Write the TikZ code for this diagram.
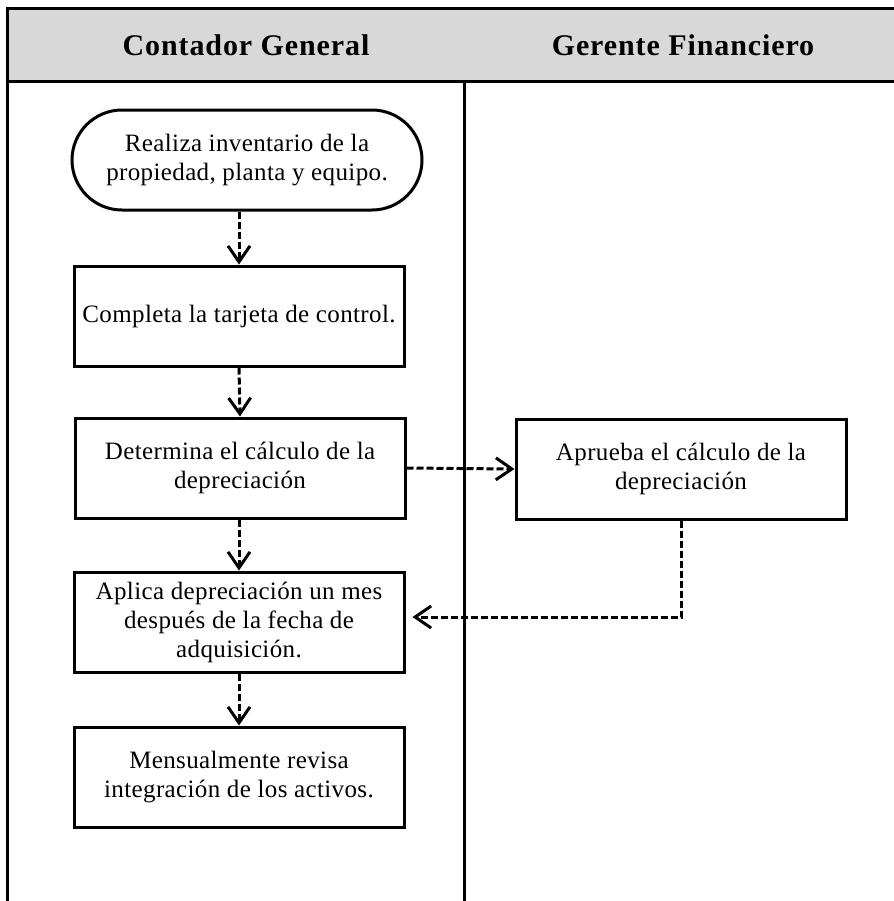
\documentclass[tikz,border=0pt]{standalone}
\usepackage{fontspec}
\setmainfont{Liberation Serif}
\usetikzlibrary{arrows.meta}
\definecolor{lanegray}{HTML}{D8D8D8}
\tikzset{
  stepbox/.style={draw, line width=1.5pt, minimum width=165pt, minimum height=50pt,
    align=center, inner sep=0pt,
    font=\fontsize{12.5}{14.5}\selectfont\addfontfeature{LetterSpace=1.5}},
  startbox/.style={stepbox, rounded corners=25pt, minimum width=175pt},
  flow/.style={line width=1.5pt, dash pattern=on 3.5pt off 1.5pt,
    -{Straight Barb[length=8pt,width=11pt]}},
  lane/.style={line width=1.5pt},
  lanehead/.style={font=\fontsize{15}{17}\selectfont\bfseries\addfontfeature{LetterSpace=3}},
}
\begin{document}
\begin{tikzpicture}[x=0.5pt,y=-0.5pt]
\useasboundingbox (0,0) rectangle (894,901);
\clip (0,0) rectangle (894,901);
% swimlane frame
\draw[lane, fill=lanegray] (7,8) rectangle (905,81);
\draw[lane] (7,81) -- (7,910);
\draw[lane] (464,81) -- (464,910);
\node[lanehead] (h1) at (246,45) {Contador General};
\node[lanehead] (h2) at (683,45) {Gerente Financiero};
% process steps
\node[startbox] (t1) at (247,160) {Realiza inventario de la\\propiedad, planta y equipo.};
\node[stepbox] (b2) at (239,316) {Completa la tarjeta de control.};
\node[stepbox] (b3) at (240,468) {Determina el cálculo de la\\depreciación};
\node[stepbox] (b4) at (681,469) {Aprueba el cálculo de la\\depreciación};
\node[stepbox] (b5) at (239,622) {Aplica depreciación un mes\\después de la fecha de\\adquisición.};
\node[stepbox] (b6) at (239,777) {Mensualmente revisa\\integración de los activos.};
% connectors
\draw[flow] (t1.south -| b2.north) -- (b2.north);
\draw[flow] (b2.south) -- (b3.south |- b3.north);
\draw[flow] (b3.east) -- (b4.west);
\draw[flow] (b3.south -| b5.north) -- (b5.north);
\draw[flow] (b4.south) |- ([xshift=3.5pt,yshift=2.5pt]b5.east);
\draw[flow] (b5.south) -- (b6.north);
\end{tikzpicture}
\end{document}
